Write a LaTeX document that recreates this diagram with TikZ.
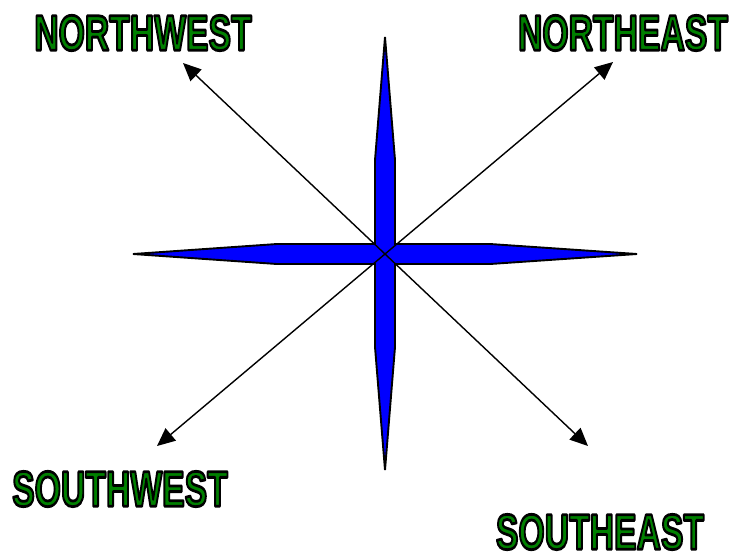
\documentclass[tikz,border=0pt]{standalone}
\usepackage{fontspec}
\setmainfont{Liberation Sans}
\usetikzlibrary{arrows.meta}
\definecolor{lblgreen}{RGB}{0,128,0}
\definecolor{starblue}{RGB}{0,0,255}
\newcommand\olabel[1]{\scalebox{0.675}[1]{\fontsize{50}{50}\selectfont\bfseries\color{lblgreen}%
  \special{pdf:literal direct 0 0 0 RG 2 Tr 2.8 w 1 j}#1\special{pdf:literal direct 0 Tr}}}
\tikzset{
  lbl/.style={inner sep=0pt, anchor=center},
  dirarrow/.style={line width=1.4pt, -{Triangle[length=18pt,width=16pt]}},
  star/.style={fill=starblue, draw=black, line width=1.9pt, line join=miter}
}
\begin{document}
\begin{tikzpicture}[x=1pt,y=-1pt]
\useasboundingbox (0,0) rectangle (735,555);
% star
\draw[star] (385,37) -- (395,160) -- (395,244) -- (490,244) -- (637,254)
  -- (490,264) -- (395,264) -- (395,347) -- (385,470) -- (375,347)
  -- (375,264) -- (277,264) -- (133,254) -- (277,244) -- (375,244)
  -- (375,160) -- cycle;
\coordinate (c) at (385,254);
\coordinate (nw) at (183,63);
\coordinate (ne) at (613,62);
\coordinate (sw) at (157,446);
\coordinate (se) at (588,446);
\draw[dirarrow] (c) -- (nw);
\draw[dirarrow] (c) -- (ne);
\draw[dirarrow] (c) -- (sw);
\draw[dirarrow] (c) -- (se);
\node[lbl] (lnw) at (143,33) {\olabel{NORTHWEST}};
\node[lbl] (lne) at (623,33) {\olabel{NORTHEAST}};
\node[lbl] (lsw) at (120,489) {\olabel{SOUTHWEST}};
\node[lbl] (lse) at (600,532) {\olabel{SOUTHEAST}};
\end{tikzpicture}
\end{document}
